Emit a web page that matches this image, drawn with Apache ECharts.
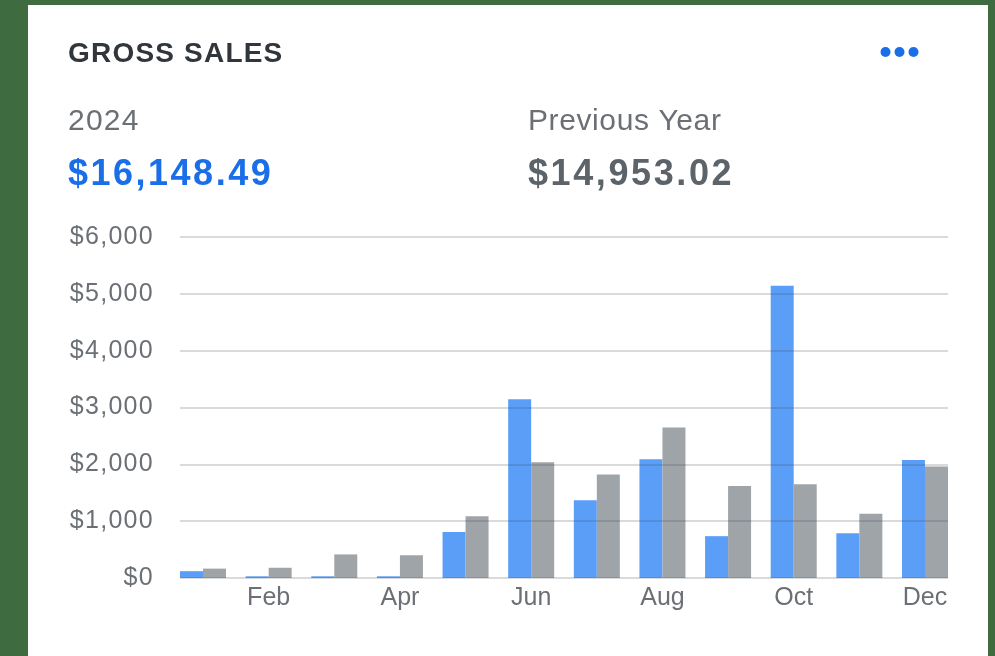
<!DOCTYPE html>
<html>
<head>
<meta charset="utf-8">
<script src="https://cdn.jsdelivr.net/npm/echarts@6/dist/echarts.min.js"></script>
<style>
html,body{margin:0;padding:0;background:#3e6c40;}
#c{width:995px;height:656px;}
</style>
</head>
<body>
<div id="c"></div>
<script>
const months = ['Jan','Feb','Mar','Apr','May','Jun','Jul','Aug','Sep','Oct','Nov','Dec'];
const sales2024 = [120, 30, 30, 30, 810, 3146, 1370, 2088, 736, 5141, 789, 2076];
const salesPrev = [165, 180, 415, 400, 1086, 2035, 1819, 2646, 1618, 1648, 1129, 1960];
const yTicks = [0, 1000, 2000, 3000, 4000, 5000, 6000];
const titleText = 'GROSS SALES';
const curLabel = '2024';
const curTotal = '$16,148.49';
const prevLabel = 'Previous Year';
const prevTotal = '$14,953.02';

const FONT = '"Liberation Sans", Arial, sans-serif';
const fmtMoney = function (v) { return '$' + v.toLocaleString('en-US'); };

// letter spacing per text (canvas letterSpacing); all other text uses 0px
const spacing = {};
spacing[titleText] = '1.2px';
spacing[curLabel] = '1.2px';
spacing[curTotal] = '2.5px';
spacing[prevLabel] = '0.6px';
spacing[prevTotal] = '2.6px';
yTicks.forEach(function (v) { spacing[fmtMoney(v)] = '1.3px'; });
(function () {
  const proto = CanvasRenderingContext2D.prototype;
  if (!('letterSpacing' in proto)) return;
  const orig = proto.fillText;
  proto.fillText = function (t, x, y, w) {
    const ls = spacing[t];
    this.letterSpacing = (ls === undefined) ? '0px' : ls;
    if (w === undefined) orig.call(this, t, x, y); else orig.call(this, t, x, y, w);
    this.letterSpacing = '0px';
  };
})();

const chart = echarts.init(document.getElementById('c'), null, {renderer: 'canvas'});
const yMin = yTicks[0], yMax = yTicks[yTicks.length - 1], yStep = yTicks[1] - yTicks[0];

chart.setOption({
  backgroundColor: '#3e6c40',
  animation: false,
  graphic: [
    {type: 'rect', z: -10, shape: {x: 28, y: 5, width: 960, height: 660}, style: {fill: '#ffffff'}},
    {type: 'text', style: {text: titleText, x: 68, y: 54, font: 'bold 28px ' + FONT, fill: '#30363c', verticalAlign: 'middle'}},
    {type: 'circle', shape: {cx: 885.5, cy: 52, r: 5}, style: {fill: '#1a6fe8'}},
    {type: 'circle', shape: {cx: 899.5, cy: 52, r: 5}, style: {fill: '#1a6fe8'}},
    {type: 'circle', shape: {cx: 913.5, cy: 52, r: 5}, style: {fill: '#1a6fe8'}},
    {type: 'text', style: {text: curLabel, x: 68, y: 122, font: '30px ' + FONT, fill: '#6b7076', verticalAlign: 'middle'}},
    {type: 'text', style: {text: curTotal, x: 68, y: 175, font: 'bold 36px ' + FONT, fill: '#1a6fe8', verticalAlign: 'middle'}},
    {type: 'text', style: {text: prevLabel, x: 528, y: 122, font: '30px ' + FONT, fill: '#6b7076', verticalAlign: 'middle'}},
    {type: 'text', style: {text: prevTotal, x: 528, y: 175, font: 'bold 36px ' + FONT, fill: '#5c6369', verticalAlign: 'middle'}}
  ],
  grid: [
    {left: 180, right: 47, top: 237, height: 341},
    {left: 170.2, right: 37.2, top: 237, height: 341}
  ],
  xAxis: [
    {gridIndex: 0, type: 'value', min: 0, max: 1, show: false},
    {gridIndex: 1, type: 'category', data: months, boundaryGap: true,
     axisLine: {show: false}, axisTick: {show: false},
     axisLabel: {interval: function (i) { return i % 2 === 1; }, margin: 8,
       fontFamily: FONT, fontSize: 25, color: '#6b7076'}}
  ],
  yAxis: [
    {gridIndex: 0, type: 'value', min: yMin, max: yMax, interval: yStep, z: 5,
     axisLine: {show: false}, axisTick: {show: false},
     splitLine: {show: true, lineStyle: {color: 'rgba(60,70,80,0.2)', width: 2}},
     axisLabel: {margin: 26, fontFamily: FONT, fontSize: 25, color: '#6b7076',
       formatter: fmtMoney}},
    {gridIndex: 1, type: 'value', min: yMin, max: yMax, interval: yStep, show: false,
     splitLine: {show: false}}
  ],
  series: [
    {name: curLabel, type: 'bar', xAxisIndex: 1, yAxisIndex: 1, data: sales2024,
     barWidth: 23, barGap: '0%', z: 2, itemStyle: {color: '#5b9ef8'}},
    {name: prevLabel, type: 'bar', xAxisIndex: 1, yAxisIndex: 1, data: salesPrev,
     barWidth: 23, barGap: '0%', z: 2, itemStyle: {color: '#9fa4a9'}}
  ]
});
</script>
</body>
</html>
